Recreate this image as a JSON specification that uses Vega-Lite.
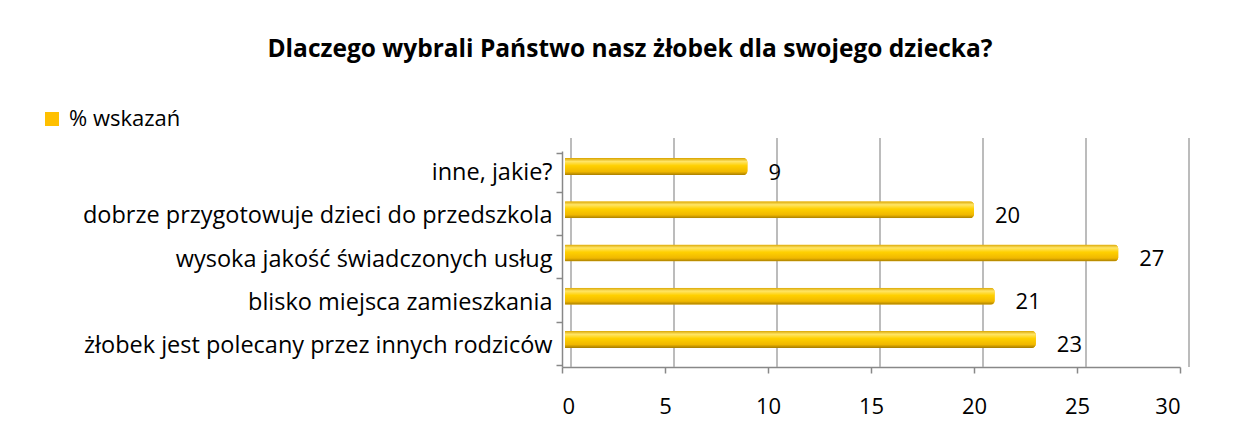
{
  "$schema": "https://vega.github.io/schema/vega-lite/v6.json",
  "width": 618,
  "height": 216,
  "autosize": {"type": "none"},
  "padding": {"left": 562, "top": 151, "right": 60, "bottom": 67},
  "background": "white",
  "title": {
    "text": "Dlaczego wybrali Państwo nasz żłobek dla swojego dziecka?",
    "font": "Open Sans",
    "fontSize": 24.5,
    "fontWeight": "bold",
    "color": "black",
    "anchor": "middle",
    "frame": "group",
    "dx": -241,
    "offset": 46
  },
  "config": {
    "view": {"stroke": null},
    "font": "Open Sans"
  },
  "datasets": {
    "answers": [
      {"kategoria": "inne, jakie?", "wartosc": 9, "seria": "% wskazań"},
      {"kategoria": "dobrze przygotowuje dzieci do przedszkola", "wartosc": 20, "seria": "% wskazań"},
      {"kategoria": "wysoka jakość świadczonych usług", "wartosc": 27, "seria": "% wskazań"},
      {"kategoria": "blisko miejsca zamieszkania", "wartosc": 21, "seria": "% wskazań"},
      {"kategoria": "żłobek jest polecany przez innych rodziców", "wartosc": 23, "seria": "% wskazań"}
    ],
    "grid": [{"g": 0}, {"g": 5}, {"g": 10}, {"g": 15}, {"g": 20}, {"g": 25}, {"g": 30}]
  },
  "layer": [
    {
      "data": {"name": "grid"},
      "mark": {"type": "rule", "color": "#a6a6a6", "strokeWidth": 1.5, "xOffset": 9, "yOffset": -13, "y2Offset": -13},
      "encoding": {
        "x": {"field": "g", "type": "quantitative", "scale": {"domain": [0, 30]}}
      }
    },
    {
      "data": {"name": "answers"},
      "mark": {"type": "bar", "size": 17, "yOffset": -6, "xOffset": 3, "cornerRadius": 4},
      "encoding": {
        "y": {
          "field": "kategoria",
          "type": "nominal",
          "sort": null,
          "axis": {
            "title": null,
            "labelFontSize": 23.5,
            "labelFont": "Open Sans",
            "labelColor": "black",
            "labelPadding": 4,
            "domainColor": "#888888",
            "domainWidth": 1.5,
            "tickColor": "#888888",
            "tickWidth": 1.5,
            "tickSize": 6,
            "tickBand": "extent",
            "labelLimit": 600
          }
        },
        "x": {
          "field": "wartosc",
          "type": "quantitative",
          "scale": {"domain": [0, 30]},
          "axis": {
            "title": null,
            "values": [0, 5, 10, 15, 20, 25, 30],
            "grid": false,
            "labelFontSize": 22,
            "labelFont": "Open Sans",
            "labelColor": "black",
            "labelPadding": 23,
            "domainColor": "#888888",
            "domainWidth": 1.5,
            "tickColor": "#888888",
            "tickWidth": 1.5,
            "tickSize": 6
          }
        },
        "color": {
          "field": "seria",
          "type": "nominal",
          "scale": {"range": ["#FFC000"]},
          "legend": {
            "title": null,
            "orient": "none",
            "legendX": -521,
            "legendY": -43,
            "symbolType": "square",
            "symbolSize": 196,
            "symbolStrokeWidth": 0,
            "labelFontSize": 22,
            "labelFont": "Open Sans",
            "labelColor": "black",
            "labelOffset": 6
          }
        }
      }
    },
    {
      "data": {"name": "answers"},
      "mark": {
        "type": "bar",
        "size": 17,
        "yOffset": -6,
        "xOffset": 3,
        "cornerRadius": 4,
        "fill": {
          "gradient": "linear",
          "x1": 0, "y1": 0, "x2": 0, "y2": 1,
          "stops": [
            {"offset": 0, "color": "#D9A400"},
            {"offset": 0.2, "color": "#FFE566"},
            {"offset": 0.45, "color": "#FFD000"},
            {"offset": 0.8, "color": "#F0B800"},
            {"offset": 1, "color": "#A67C00"}
          ]
        }
      },
      "encoding": {
        "y": {"field": "kategoria", "type": "nominal", "sort": null},
        "x": {"field": "wartosc", "type": "quantitative"}
      }
    },
    {
      "data": {"name": "answers"},
      "mark": {"type": "text", "align": "left", "baseline": "middle", "dx": 21, "fontSize": 22, "font": "Open Sans", "color": "black"},
      "encoding": {
        "y": {"field": "kategoria", "type": "nominal", "sort": null},
        "x": {"field": "wartosc", "type": "quantitative"},
        "text": {"field": "wartosc", "type": "quantitative"}
      }
    }
  ]
}
